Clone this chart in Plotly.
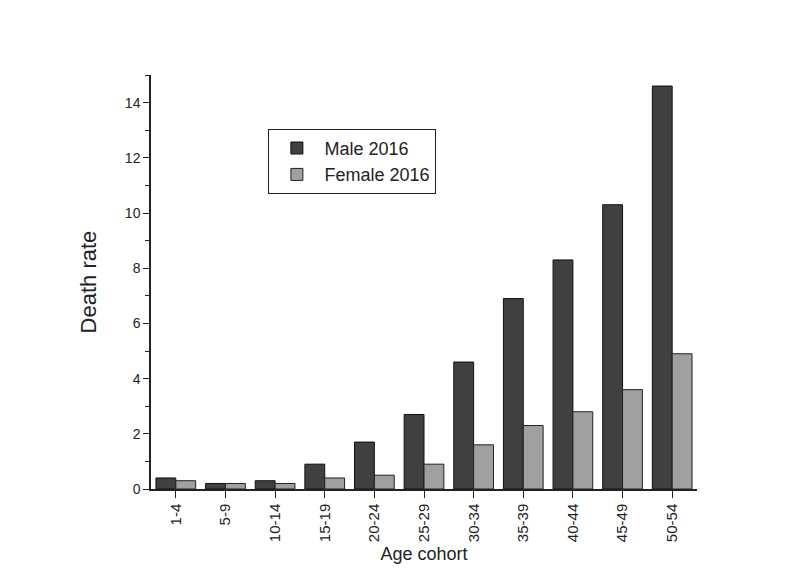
import plotly.graph_objects as go

cohorts = ["1-4", "5-9", "10-14", "15-19", "20-24", "25-29", "30-34", "35-39", "40-44", "45-49", "50-54"]
male_2016 = [0.4, 0.2, 0.3, 0.9, 1.7, 2.7, 4.6, 6.9, 8.3, 10.3, 14.6]
female_2016 = [0.3, 0.2, 0.2, 0.4, 0.5, 0.9, 1.6, 2.3, 2.8, 3.6, 4.9]

font = "Liberation Sans, Arial, sans-serif"

fig = go.Figure()
fig.add_trace(go.Bar(x=cohorts, y=male_2016, name="Male 2016",
                     marker=dict(color="#404040", line=dict(color="#111", width=1))))
fig.add_trace(go.Bar(x=cohorts, y=female_2016, name="Female 2016",
                     marker=dict(color="#a0a0a0", line=dict(color="#222", width=1))))

fig.update_layout(
    width=800, height=577,
    paper_bgcolor="white", plot_bgcolor="white",
    margin=dict(l=143, r=111, t=67, b=96, autoexpand=False),
    barmode="group", bargap=0.2, bargroupgap=0,
    font=dict(family=font, color="#222", size=13),
    legend=dict(x=0.215, y=0.87, xanchor="left", yanchor="top",
                bordercolor="#222", borderwidth=1, bgcolor="white",
                font=dict(size=18), tracegroupgap=0, itemwidth=45),
    showlegend=True,
)
fig.update_xaxes(
    title=dict(text="Age cohort", font=dict(size=18), standoff=6),
    showline=True, linecolor="#222", linewidth=1.5, automargin=False,
    ticks="outside", ticklen=7, tickcolor="#222", tickangle=-90,
    tickfont=dict(size=15), showgrid=False,
)
fig.update_yaxes(
    title=dict(text="Death rate", font=dict(size=22), standoff=22),
    range=[0, 15], dtick=2, showline=True, linecolor="#222", linewidth=1.5,
    ticks="outside", ticklen=6, tickcolor="#222", showgrid=False, zeroline=False,
    minor=dict(dtick=1, ticks="outside", ticklen=4, tickcolor="#222"),
    tickfont=dict(size=14), automargin=False,
)

fig.write_html("out.html")
